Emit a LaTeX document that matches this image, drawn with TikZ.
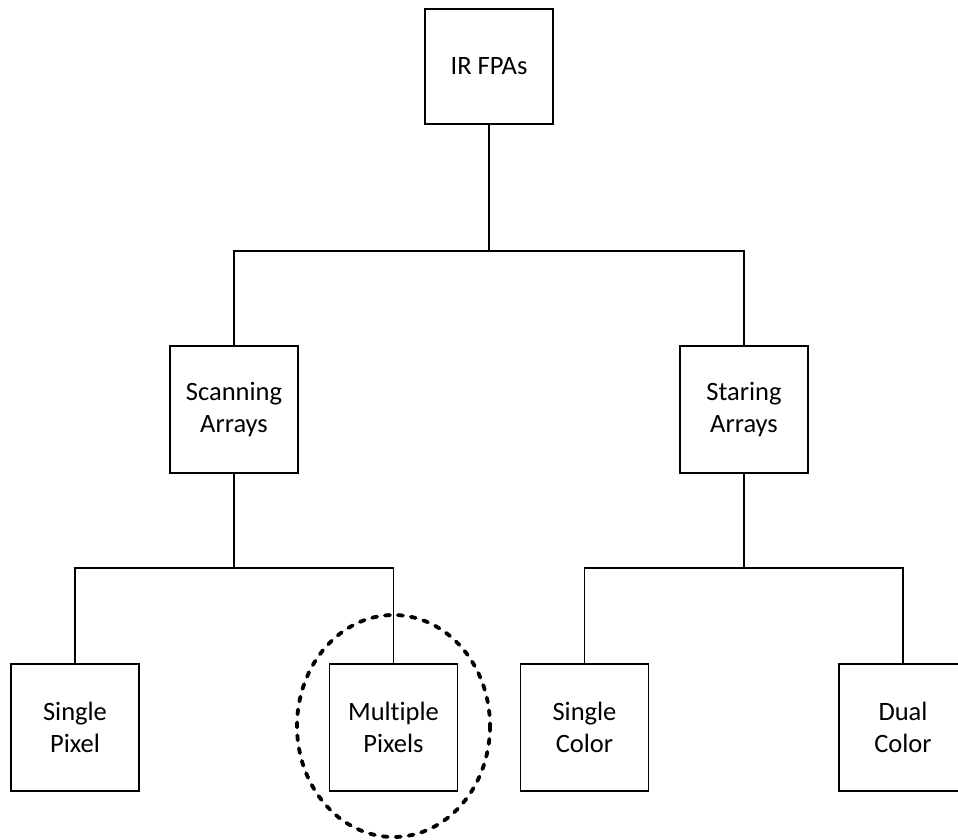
\documentclass[tikz,border=0pt]{standalone}
\usepackage{fontspec}
\setmainfont{Carlito}[Ligatures=NoCommon]
\usepackage{tikz}

\begin{document}
\begin{tikzpicture}[x=1pt, y=-1pt,
  box/.style={draw, line width=1.6pt, minimum width=128pt, minimum height=127pt,
    inner sep=0pt, align=center, font=\fontsize{26.5}{32}\selectfont},
  link/.style={line width=1.6pt}]
\clip (0,0) rectangle (958,839);
\fill[white] (0,0) rectangle (958,839);
\node[box, minimum height=115pt] (fpa) at (489,66.5) {IR FPAs};
\node[box] (scan) at (234,409.5) {Scanning\\Arrays};
\node[box] (star) at (744,409.5) {Staring\\Arrays};
\node[box] (spix) at (75,727.5) {Single\\Pixel};
\node[box] (mpix) at (393.5,727.5) {Multiple\\Pixels};
\node[box] (scol) at (584.5,727.5) {Single\\Color};
\node[box] (dcol) at (903,727.5) {Dual\\Color};
\coordinate (top bus) at (489,251);
\coordinate (scan bus) at (234,568);
\coordinate (star bus) at (744,568);
\draw[link] (fpa.south) -- (top bus);
\draw[link] (scan.north) |- (top bus) -| (star.north);
\draw[link] (scan.south) -- (scan bus);
\draw[link] (spix.north) |- (scan bus) -| (mpix.north);
\draw[link] (star.south) -- (star bus);
\draw[link] (scol.north) |- (star bus) -| (dcol.north);
\draw[line width=3.8pt, line cap=round, dash pattern=on 5pt off 8pt] (393.5,726) ellipse (96.5 and 111);
\end{tikzpicture}
\end{document}
